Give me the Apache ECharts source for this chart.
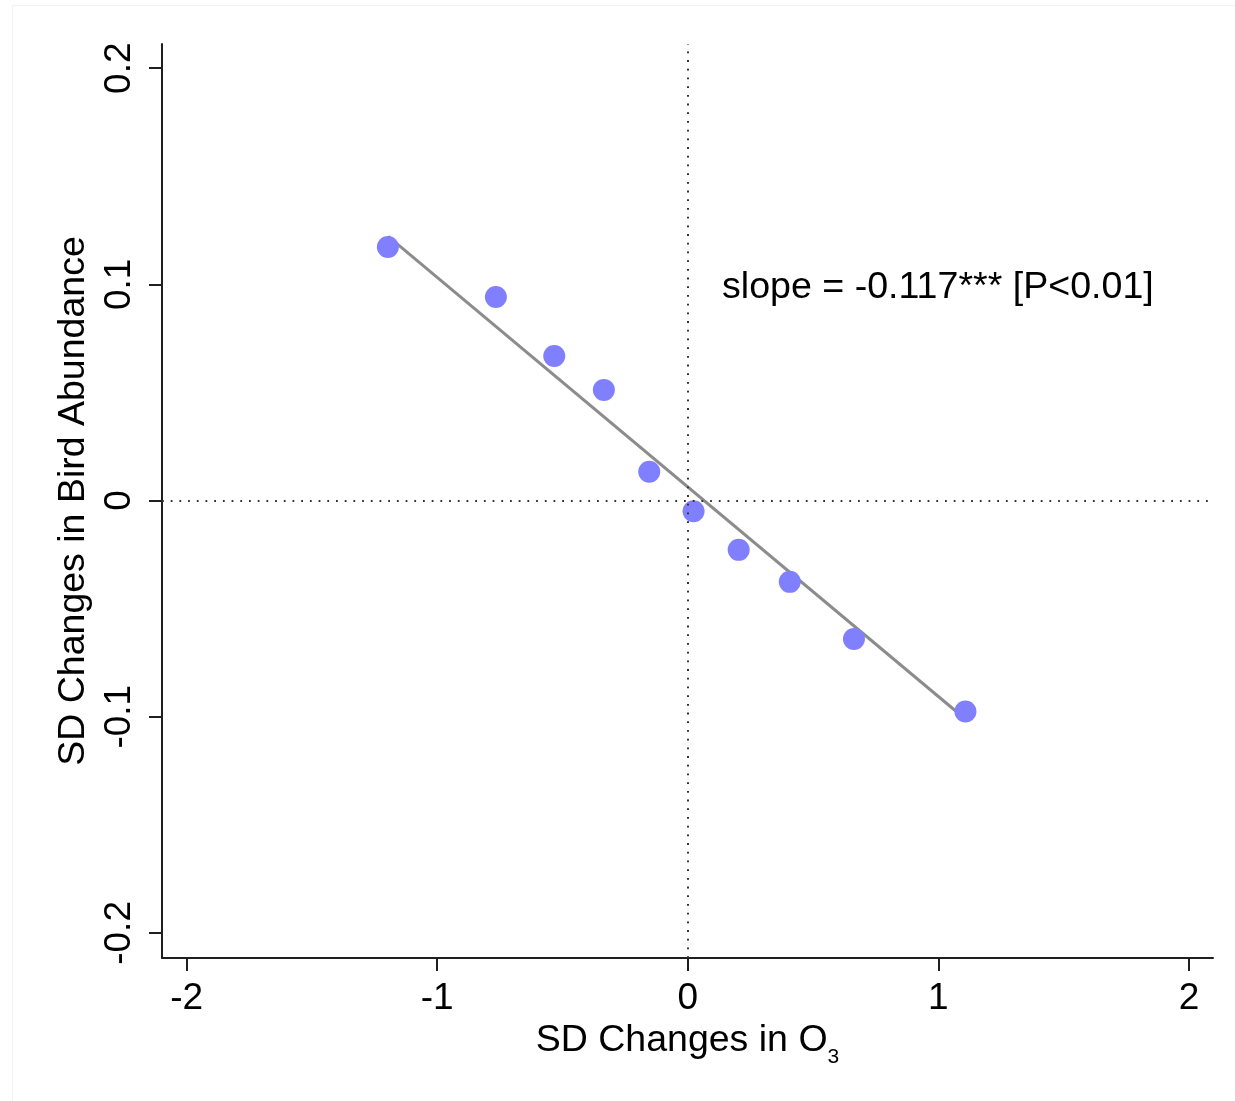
<!DOCTYPE html>
<html>
<head>
<meta charset="utf-8">
<script src="https://cdn.jsdelivr.net/npm/echarts@6/dist/echarts.min.js"></script>
<style>
html,body{margin:0;padding:0;background:#fff;}
#chart{width:1235px;height:1101px;}
</style>
</head>
<body>
<div id="chart"></div>
<script>
// Binned scatter: SD changes in O3 (x) vs SD changes in bird abundance (y)
const ozoneSD = [-1.197, -0.766, -0.533, -0.335, -0.154, 0.023, 0.203, 0.407, 0.663, 1.108];
const birdSD  = [0.1173, 0.0942, 0.0669, 0.0512, 0.0133, -0.0049, -0.0228, -0.0376, -0.0640, -0.0976];
// Fitted line end points
const fitX = [-1.196, 1.105];
const fitY = [0.1222, -0.1008];
// Tick values
const xTicks = [-2, -1, 0, 1, 2];
const yTicks = [-0.2, -0.1, 0, 0.1, 0.2];
const xRange = [-2.0985, 2.096];
const yRange = [-0.2116, 0.2112];
const slopeText = 'slope = -0.117*** [P<0.01]';
const xTitleMain = 'SD Changes in O';
const xTitleSub = '3';
const yTitle = 'SD Changes in Bird Abundance';

const FONT = "'Liberation Sans', Arial, Helvetica, sans-serif";
const FS = 37;
const FT = 37.5;
const AX = '#1f1f1f';

const scatterData = ozoneSD.map((x, i) => [x, birdSD[i]]);
const fitData = fitX.map((x, i) => [x, fitY[i]]);

const chart = echarts.init(document.getElementById('chart'), null, {renderer: 'canvas'});
chart.setOption({
  animation: false,
  backgroundColor: '#ffffff',
  grid: {left: 162, right: 22, top: 44, bottom: 143, containLabel: false},
  xAxis: {
    type: 'value',
    min: xRange[0], max: xRange[1],
    axisLine: {show: true, onZero: false, lineStyle: {color: AX, width: 2}},
    axisTick: {show: true, length: 13, inside: false, customValues: xTicks, lineStyle: {color: AX, width: 2}},
    axisLabel: {show: true, customValues: xTicks, margin: 22, fontSize: FS, fontFamily: FONT, color: '#000',
      formatter: v => String(v)},
    splitLine: {show: false},
    name: '{a|' + xTitleMain + '}{s|' + xTitleSub + '}',
    nameLocation: 'middle',
    nameGap: 63,
    nameTextStyle: {
      verticalAlign: 'top',
      rich: {
        a: {fontSize: FT, fontFamily: FONT, color: '#000', height: 37, lineHeight: 37, verticalAlign: 'top'},
        s: {fontSize: 21, fontFamily: FONT, color: '#000', height: 69, lineHeight: 69, verticalAlign: 'top'}
      }
    }
  },
  yAxis: {
    type: 'value',
    min: yRange[0], max: yRange[1],
    axisLine: {show: true, onZero: false, lineStyle: {color: AX, width: 2}},
    axisTick: {show: true, length: 13, inside: false, customValues: yTicks, lineStyle: {color: AX, width: 2}},
    axisLabel: {show: true, customValues: yTicks, rotate: 90, align: 'center', verticalAlign: 'bottom',
      margin: 24, fontSize: FS, fontFamily: FONT, color: '#000', formatter: v => String(v)},
    splitLine: {show: false},
    name: yTitle,
    nameLocation: 'middle',
    nameRotate: 90,
    nameGap: 66,
    nameTextStyle: {fontSize: FT, fontFamily: FONT, color: '#000', align: 'center', verticalAlign: 'bottom'}
  },
  series: [
    {
      type: 'line',
      data: fitData,
      symbol: 'none',
      z: 2,
      lineStyle: {color: '#8c8c8c', width: 3},
      silent: true,
      markLine: {
        silent: true,
        symbol: ['none', 'none'],
        label: {show: false},
        lineStyle: {color: '#333', width: 2, type: [1.8, 6.9]},
        data: [{xAxis: 0}, {yAxis: 0}]
      }
    },
    {
      type: 'scatter',
      data: scatterData,
      symbol: 'circle',
      symbolSize: 22,
      z: 3,
      itemStyle: {color: '#8080ff', opacity: 1}
    }
  ],
  graphic: [
    {type: 'line', shape: {x1: 12.5, y1: 5.5, x2: 1235, y2: 5.5}, style: {stroke: '#eef2f2', lineWidth: 1}, silent: true},
    {type: 'line', shape: {x1: 12.5, y1: 5.5, x2: 12.5, y2: 1101}, style: {stroke: '#eef2f2', lineWidth: 1}, silent: true},
    {type: 'text', left: 722, top: 269, silent: true,
      style: {text: slopeText, font: '37.6px ' + FONT, fill: '#000'}}
  ]
});
</script>
</body>
</html>
